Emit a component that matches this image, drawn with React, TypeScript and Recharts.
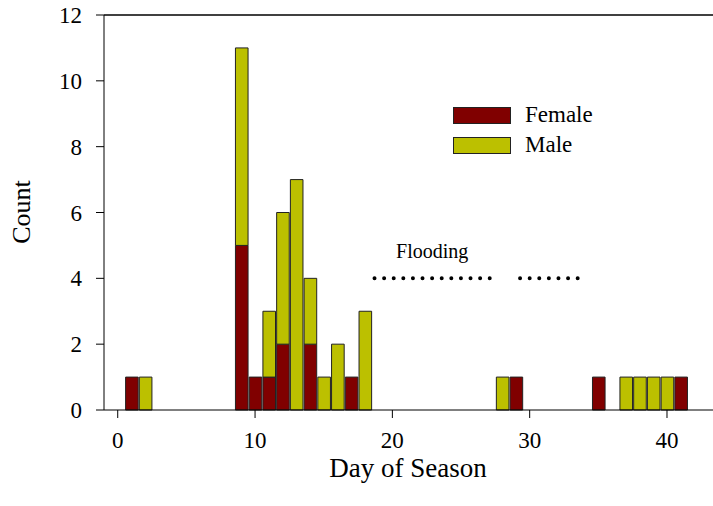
import React from 'react';
import { BarChart, Bar, XAxis, YAxis, ReferenceLine } from 'recharts';

const days = [1, 2, 9, 10, 11, 12, 13, 14, 15, 16, 17, 18, 28, 29, 35, 37, 38, 39, 40, 41];
const female = [1, 0, 5, 1, 1, 2, 0, 2, 0, 0, 1, 0, 0, 1, 1, 0, 0, 0, 0, 1];
const male = [0, 1, 6, 0, 2, 4, 7, 2, 1, 2, 0, 3, 1, 0, 0, 1, 1, 1, 1, 0];

const xTicks = [0, 10, 20, 30, 40];
const yTicks = [0, 2, 4, 6, 8, 10, 12];

// flooding periods (day from, day to) drawn as dotted lines at count 4
const floodStart = [18.7, 29.3];
const floodEnd = [27.1, 33.5];
const floodLevel = 4;

const FEMALE = '#800000';
const MALE = '#bcc000';
const FONT = '"Liberation Serif", "Times New Roman", serif';

const data = days.map((day, i) => ({ day, Female: female[i], Male: male[i] }));

const series = [
    { name: 'Female', color: FEMALE },
    { name: 'Male', color: MALE },
];

const LegendBox = () => (
    <div style={{ position: 'absolute', left: 453, top: 100, fontFamily: FONT, fontSize: 23, color: '#000' }}>
        {series.map((s) => (
            <div key={s.name} style={{ display: 'flex', alignItems: 'center', height: 30 }}>
                <span
                    style={{
                        display: 'inline-block',
                        width: 56,
                        height: 15,
                        background: s.color,
                        border: '1px solid #222',
                        marginRight: 14,
                    }}
                />
                <span>{s.name}</span>
            </div>
        ))}
    </div>
);

export default function App() {
    return (
        <div style={{ position: 'absolute', left: 0, top: 0, width: 713, height: 506, background: '#fff', overflow: 'hidden' }}>
            <BarChart
                width={713}
                height={506}
                data={data}
                margin={{ top: 15, right: 0, bottom: 46, left: 44 }}
                barSize={12.6}
            >
                <XAxis
                    type="number"
                    dataKey="day"
                    domain={[-1, 43.35]}
                    ticks={xTicks}
                    allowDataOverflow
                    height={50}
                    tickSize={8}
                    tickMargin={14}
                    stroke="#000"
                    tick={{ fill: '#000', fontSize: 23, fontFamily: FONT }}
                />
                <YAxis
                    domain={[0, 12]}
                    ticks={yTicks}
                    width={60}
                    tickSize={8}
                    tickMargin={14}
                    stroke="#000"
                    tick={{ fill: '#000', fontSize: 23, fontFamily: FONT }}
                />
                <ReferenceLine y={12} stroke="#000" strokeWidth={1.5} />
                <Bar dataKey="Female" stackId="a" fill={FEMALE} stroke="#222" strokeWidth={1} isAnimationActive={false} />
                <Bar dataKey="Male" stackId="a" fill={MALE} stroke="#222" strokeWidth={1} isAnimationActive={false} />
                {floodStart.map((x0, i) => (
                    <ReferenceLine
                        key={i}
                        segment={[
                            { x: x0, y: floodLevel },
                            { x: floodEnd[i], y: floodLevel },
                        ]}
                        stroke="#000"
                        strokeWidth={4}
                        strokeLinecap="round"
                        strokeDasharray="0 9.6"
                        label={
                            i === 0
                                ? { value: 'Flooding', position: 'top', offset: 20, fill: '#000', fontSize: 20, fontFamily: FONT }
                                : undefined
                        }
                    />
                ))}
            </BarChart>
            <LegendBox />
            <div
                style={{
                    position: 'absolute',
                    left: 22,
                    top: 212,
                    transform: 'translate(-50%, -50%) rotate(-90deg)',
                    fontFamily: FONT,
                    fontSize: 26,
                    whiteSpace: 'nowrap',
                }}
            >
                Count
            </div>
            <div
                style={{
                    position: 'absolute',
                    left: 408,
                    top: 468,
                    transform: 'translate(-50%, -50%)',
                    fontFamily: FONT,
                    fontSize: 27,
                    whiteSpace: 'nowrap',
                }}
            >
                Day of Season
            </div>
        </div>
    );
}
